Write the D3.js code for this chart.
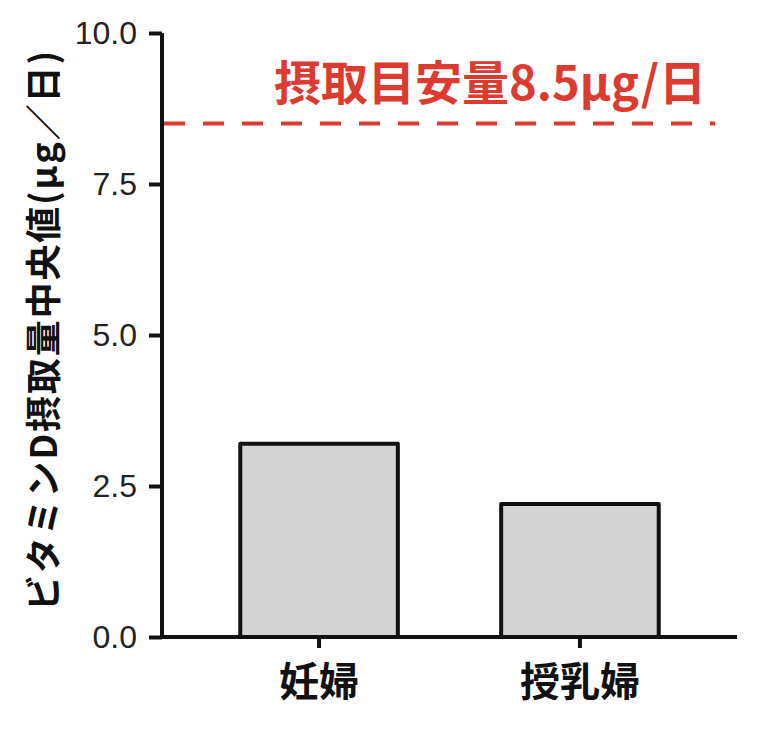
<!DOCTYPE html>
<html><head><meta charset="utf-8">
<script src="https://cdn.jsdelivr.net/npm/d3@7"></script>
<style>body{margin:0;background:#fff}svg{display:block}</style>
</head><body>
<svg id="c" width="778" height="736"></svg>
<script>
const categories = ["妊婦", "授乳婦"];
const values = [3.2, 2.2];
const yTicks = [0, 2.5, 5, 7.5, 10];
const yTickLabels = ["0.0", "2.5", "5.0", "7.5", "10.0"];
const refValue = 8.5;
const refLabel = "摂取目安量8.5μg/日";
const yTitle = "ビタミンD摂取量中央値(μg／日)";

const svg = d3.select("#c");
const x0 = 162, x1 = 737, yTop = 33, yBot = 637;
const y = d3.scaleLinear().domain([0, 10]).range([yBot, yTop]);
const x = d3.scaleBand().domain(categories).range([x0, x1]).paddingInner(0.396).paddingOuter(0.3);

// bars
svg.append("g").selectAll("rect").data(values).join("rect")
  .attr("x", (d, i) => x(categories[i]))
  .attr("y", d => y(d))
  .attr("width", x.bandwidth())
  .attr("height", d => yBot - y(d))
  .attr("fill", "#d3d3d3")
  .attr("stroke", "#111")
  .attr("stroke-width", 4)
  .attr("stroke-linejoin", "round");

// y axis
const ya = svg.append("g").attr("transform", `translate(${x0},0)`)
  .call(d3.axisLeft(y).tickValues(yTicks).tickFormat((d, i) => yTickLabels[i]).tickSize(13).tickPadding(12));
ya.select(".domain").attr("stroke", "#111").attr("stroke-width", 4).attr("d", `M0,${yTop}V${yBot}`);
ya.selectAll(".tick line").attr("stroke", "#111").attr("stroke-width", 4);
ya.selectAll(".tick text").attr("font-family", "'Liberation Sans', Arial, sans-serif").attr("font-size", 32).attr("fill", "#222");

// x axis
const xa = svg.append("g").attr("transform", `translate(0,${yBot})`)
  .call(d3.axisBottom(x).tickSize(11).tickPadding(12));
xa.select(".domain").attr("stroke", "#111").attr("stroke-width", 4).attr("d", `M${x0 - 2},0H${x1}`);
xa.selectAll(".tick line").attr("stroke", "#111").attr("stroke-width", 4);
xa.selectAll(".tick text").attr("font-family", "'Noto Sans CJK JP', sans-serif").attr("font-size", 40).attr("font-weight", "bold").attr("fill", "#111").attr("dy", "0.9em");

// reference line
svg.append("line")
  .attr("x1", x0 + 2).attr("x2", 715)
  .attr("y1", y(refValue)).attr("y2", y(refValue))
  .attr("stroke", "#dd3a30").attr("stroke-width", 4).attr("stroke-dasharray", "21 18");
svg.append("text")
  .attr("x", 274).attr("y", y(refValue) - 24)
  .attr("font-family", "'Noto Sans CJK JP', sans-serif").attr("font-size", 47).attr("font-weight", "bold")
  .attr("fill", "#dd3a30").text(refLabel);

// y title
svg.append("text")
  .attr("transform", `translate(57,${(50 + 612) / 2}) rotate(-90)`)
  .attr("text-anchor", "middle")
  .attr("textLength", 560).attr("lengthAdjust", "spacing")
  .attr("font-family", "'Noto Sans CJK JP', sans-serif").attr("font-size", 36).attr("font-weight", "bold")
  .attr("fill", "#111").text(yTitle);
</script>
</body></html>
